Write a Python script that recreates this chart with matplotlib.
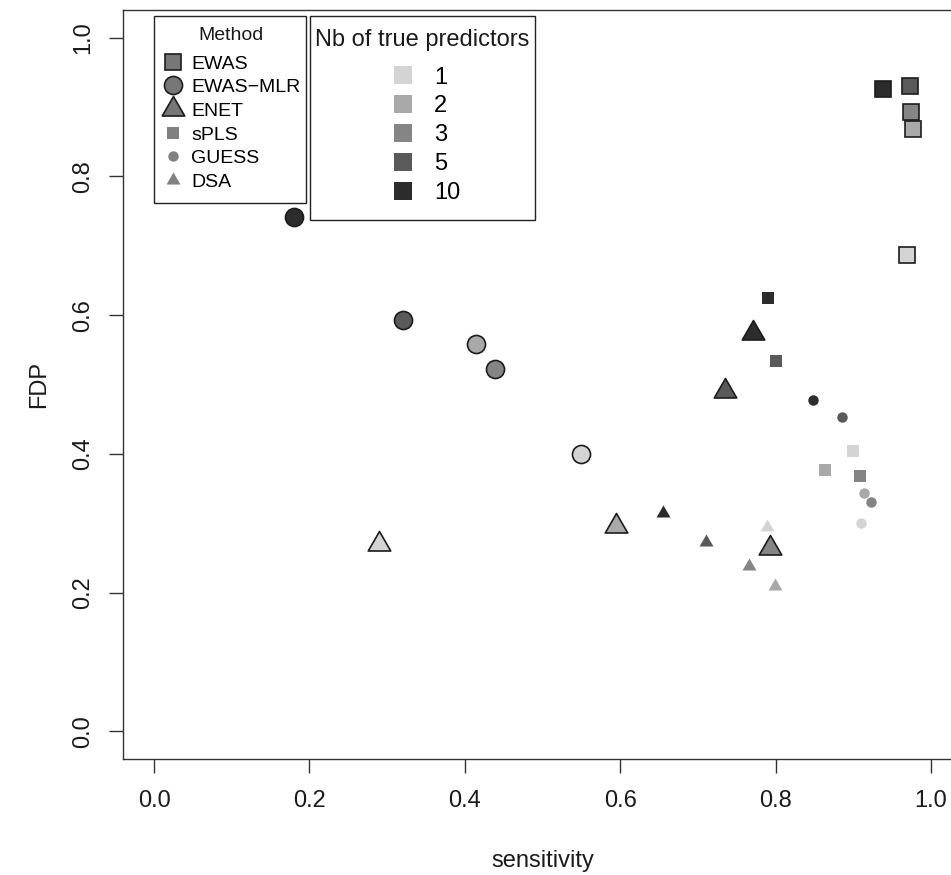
import matplotlib
matplotlib.use('Agg')
import matplotlib.pyplot as plt
from matplotlib.lines import Line2D
from matplotlib.patches import Rectangle
from matplotlib.path import Path

plt.rcParams['font.family'] = ['Liberation Sans', 'DejaVu Sans']

nb_predictors = ['1', '2', '3', '5', '10']
nb_colours = ['#d4d4d4', '#a9a9a9', '#858585', '#5a5a5a', '#2c2c2c']

methods = ['EWAS', 'EWAS\u2212MLR', 'ENET', 'sPLS', 'GUESS', 'DSA']

# sensitivity and FDP per method, one value per number of true predictors (1, 2, 3, 5, 10)
ewas_sens = [0.969, 0.977, 0.974, 0.973, 0.938]
ewas_fdp = [0.687, 0.868, 0.893, 0.930, 0.926]
mlr_sens = [0.550, 0.414, 0.439, 0.320, 0.180]
mlr_fdp = [0.400, 0.559, 0.523, 0.593, 0.741]
enet_sens = [0.290, 0.594, 0.793, 0.735, 0.771]
enet_fdp = [0.270, 0.296, 0.264, 0.491, 0.574]
spls_sens = [0.900, 0.864, 0.909, 0.800, 0.790]
spls_fdp = [0.404, 0.376, 0.368, 0.534, 0.625]
guess_sens = [0.910, 0.914, 0.923, 0.885, 0.848]
guess_fdp = [0.300, 0.343, 0.330, 0.453, 0.478]
dsa_sens = [0.789, 0.799, 0.766, 0.710, 0.655]
dsa_fdp = [0.294, 0.209, 0.238, 0.273, 0.314]

series = [(ewas_sens, ewas_fdp), (mlr_sens, mlr_fdp), (enet_sens, enet_fdp),
          (spls_sens, spls_fdp), (guess_sens, guess_fdp), (dsa_sens, dsa_fdp)]

# equilateral triangle centred on its centroid (R style pch 17 / 24)
tri = Path([(0, 1), (-0.866, -0.5), (0.866, -0.5), (0, 1)],
           [Path.MOVETO, Path.LINETO, Path.LINETO, Path.CLOSEPOLY])

# marker, size, outlined
marker_styles = [('s', 11, True), ('o', 13, True), (tri, 18.7, True),
                 ('s', 8.6, False), ('o', 7.5, False), (tri, 11.6, False)]
edge = '#1c1c1c'

fig = plt.figure(figsize=(9.51, 8.75), dpi=100)
W, H = 951, 875


def fx(px):
    return px / W


def fy(py):
    return 1 - py / H


# plot region: left 123px, right edge runs off the canvas, top 10px, bottom 759px
ax = fig.add_axes([fx(123), fy(759), (962 - 123) / W, (759 - 10) / H])

for (sx, sy), (mk, ms, outlined) in zip(series, marker_styles):
    for x, y, c in zip(sx, sy, nb_colours):
        if outlined:
            ax.plot(x, y, ls='none', marker=mk, ms=ms, mfc=c, mec=edge, mew=1.2)
        else:
            ax.plot(x, y, ls='none', marker=mk, ms=ms, mfc=c, mew=0)

ax.set_xlim(-0.04, 1.04)
ax.set_ylim(-0.04, 1.04)
ticks = [0.0, 0.2, 0.4, 0.6, 0.8, 1.0]
ax.set_xticks(ticks)
ax.set_yticks(ticks)
ax.set_xticklabels(['%.1f' % t for t in ticks])
ax.set_yticklabels(['%.1f' % t for t in ticks], rotation=90, va='center')
for sp in ax.spines.values():
    sp.set_color('#333333')
    sp.set_linewidth(1.0)
ax.tick_params(axis='both', length=10, width=1.0, color='#333333', labelsize=17,
               labelcolor='#1a1a1a')
ax.tick_params(axis='x', pad=12.5)
ax.tick_params(axis='y', pad=10.5)

ax.set_xlabel('sensitivity', fontsize=17, color='#1a1a1a')
ax.set_ylabel('FDP', fontsize=17, color='#1a1a1a')
ax.xaxis.set_label_coords(0.5, -0.121)
ax.yaxis.set_label_coords(-0.0864, 0.5)

# legend boxes (R style: square corners, white fill)
for x0, y0, x1, y1 in [(154, 16, 306, 203), (310, 16, 535, 220)]:
    ax.add_artist(Rectangle((fx(x0), fy(y1)), (x1 - x0) / W, (y1 - y0) / H,
                            transform=fig.transFigure, facecolor='white',
                            edgecolor='#222222', lw=1.0, zorder=4, clip_on=False))

# legend: method (marker shape)
method_handles = []
for mk, ms, outlined in marker_styles:
    if outlined:
        method_handles.append(Line2D([], [], ls='none', marker=mk, ms=ms,
                                     mfc='#777777', mec=edge, mew=1.2))
    else:
        method_handles.append(Line2D([], [], ls='none', marker=mk, ms=ms,
                                     mfc='#808080', mew=0))
leg1 = ax.legend(method_handles, methods, loc='upper left',
                 bbox_to_anchor=(fx(161.3), fy(55)), bbox_transform=fig.transFigure,
                 fontsize=14, frameon=False, borderpad=0, borderaxespad=0,
                 handlelength=1.2, handletextpad=0.33, labelspacing=0.31)
leg1.set_zorder(5)
ax.add_artist(leg1)
fig.text(fx(230.5), fy(40), 'Method', fontsize=14, ha='center', va='baseline',
         color='#1a1a1a')

# legend: number of true predictors (grey level)
nb_handles = [Line2D([], [], ls='none', marker='s', ms=13, mfc=c, mew=0)
              for c in nb_colours]
leg2 = ax.legend(nb_handles, nb_predictors, loc='upper left',
                 bbox_to_anchor=(fx(391.2), fy(66.5)), bbox_transform=fig.transFigure,
                 fontsize=17, frameon=False, borderpad=0, borderaxespad=0,
                 handlelength=1.0, handletextpad=0.81, labelspacing=0.29)
leg2.set_zorder(5)
fig.text(fx(421.7), fy(46), 'Nb of true predictors', fontsize=17, ha='center',
         va='baseline', color='#1a1a1a')

fig.savefig('out.png', dpi=100)
